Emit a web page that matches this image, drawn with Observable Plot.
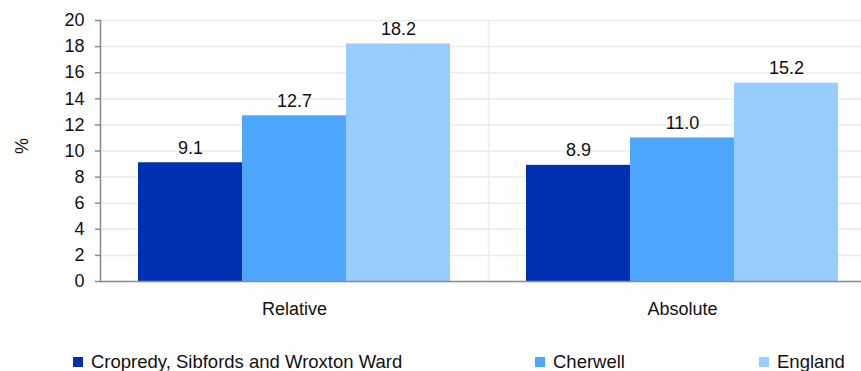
<!DOCTYPE html>
<html>
<head>
<meta charset="utf-8">
<script src="https://cdn.jsdelivr.net/npm/d3@7"></script>
<script src="https://cdn.jsdelivr.net/npm/@observablehq/plot@0.6"></script>
<style>
  html, body { margin: 0; padding: 0; background: #fff; overflow: hidden; }
  body { width: 861px; height: 371px; font-family: "Liberation Sans", Arial, sans-serif; }
  #chart svg { overflow: hidden; }
  #legend { position: relative; height: 41px; font-size: 18.5px; color: #111; }
  .item { position: absolute; top: 21px; display: flex; align-items: center; white-space: nowrap; }
  .sw { width: 10px; height: 10px; margin-right: 8px; }
</style>
</head>
<body>
<div id="chart"></div>
<div id="legend"></div>
<script>
const groups = ["Relative", "Absolute"];
const seriesNames = ["Cropredy, Sibfords and Wroxton Ward", "Cherwell", "England"];
const colors = ["#0030b2", "#4da6ff", "#99ccff"];
const relativeValues = [9.1, 12.7, 18.2];
const absoluteValues = [8.9, 11.0, 15.2];
const yTicks = [0, 2, 4, 6, 8, 10, 12, 14, 16, 18, 20];
const yTitle = "%";

const valuesByGroup = {Relative: relativeValues, Absolute: absoluteValues};
const data = groups.flatMap(g => seriesNames.map((s, i) => ({group: g, series: s, value: valuesByGroup[g][i]})));

const font = "Liberation Sans, Arial, sans-serif";

const chart = Plot.plot({
  width: 861,
  height: 330,
  marginLeft: 100,
  marginRight: -15,
  marginTop: 20,
  marginBottom: 49,
  style: {fontFamily: font, fontSize: "18px", color: "#111", background: "#fff"},
  fx: {domain: groups, padding: 0, label: null},
  x: {domain: seriesNames, paddingInner: 0, paddingOuter: 0.365, axis: null},
  y: {domain: [0, 20], axis: null},
  color: {domain: seriesNames, range: colors},
  marks: [
    Plot.gridY(yTicks, {stroke: "#ebebeb", strokeOpacity: 1, strokeWidth: 1.5}),
    Plot.frame({anchor: "left", stroke: "#ebebeb", strokeWidth: 1.5}),
    Plot.barY(data, {fx: "group", x: "series", y: "value", fill: "series"}),
    Plot.text(data, {fx: "group", x: "series", y: "value", text: d => d.value.toFixed(1), dy: -15, fontSize: 18, fill: "#111"}),
    Plot.frame({anchor: "left", fx: () => "Relative", stroke: "#8c8c8c", strokeWidth: 1.5}),
    Plot.ruleY([0], {stroke: "#8c8c8c", strokeWidth: 1.5}),
    Plot.axisY(yTicks, {anchor: "left", tickSize: 5, tickPadding: 11, stroke: "#8c8c8c", strokeWidth: 1.5, fontSize: 18, label: null, tickFormat: d => String(d)}),
    Plot.text([yTitle], {fx: () => "Relative", frameAnchor: "left", rotate: -90, dx: -78, dy: 3, fontSize: 18, fill: "#111"}),
    Plot.axisFx({anchor: "bottom", tickSize: 0, tickPadding: 21, fontSize: 18, label: null})
  ]
});
document.getElementById("chart").appendChild(chart);

const legend = document.getElementById("legend");
const lefts = [73, 535, 759];
seriesNames.forEach((s, i) => {
  const item = document.createElement("div");
  item.className = "item";
  item.style.left = lefts[i] + "px";
  const sw = document.createElement("span");
  sw.className = "sw";
  sw.style.background = colors[i];
  const t = document.createElement("span");
  t.textContent = s;
  item.appendChild(sw);
  item.appendChild(t);
  legend.appendChild(item);
});
</script>
</body>
</html>
